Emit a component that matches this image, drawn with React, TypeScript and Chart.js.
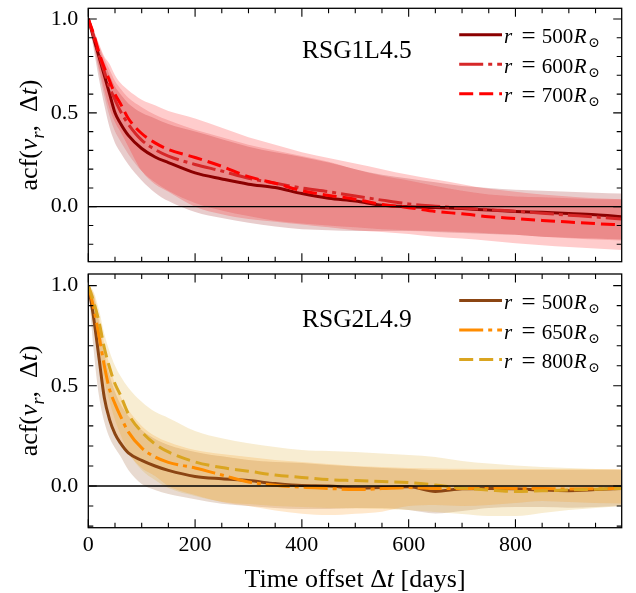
import React, { useEffect, useRef } from "react";
import { Chart, registerables } from "chart.js";

Chart.register(...registerables);

// ---------------- data ----------------
const T = [0, 10, 20, 30, 40, 50, 60, 75, 100, 125, 150, 200, 250, 300, 350, 400, 450, 500, 550, 600, 650, 700, 750, 800, 850, 900, 950, 999];

// Top panel: RSG1L4.5
const TOP_NAME = "RSG1L4.5";
const TOP_RADII = ["500", "600", "700"];
const TOP_MEAN_500 = [1.0, 0.90, 0.80, 0.70, 0.60, 0.50, 0.445, 0.38, 0.31, 0.265, 0.235, 0.18, 0.148, 0.12, 0.102, 0.07, 0.045, 0.03, 0.008, 0.0, -0.004, -0.01, -0.018, -0.025, -0.03, -0.036, -0.043, -0.053];
const TOP_MEAN_600 = [1.0, 0.91, 0.81, 0.72, 0.635, 0.57, 0.51, 0.44, 0.355, 0.305, 0.27, 0.225, 0.19, 0.152, 0.125, 0.10, 0.08, 0.057, 0.035, 0.015, 0.003, -0.007, -0.016, -0.024, -0.035, -0.045, -0.055, -0.065];
const TOP_MEAN_700 = [1.0, 0.92, 0.82, 0.74, 0.67, 0.60, 0.55, 0.47, 0.39, 0.34, 0.305, 0.262, 0.215, 0.16, 0.125, 0.085, 0.06, 0.04, 0.012, -0.005, -0.025, -0.038, -0.053, -0.063, -0.073, -0.082, -0.09, -0.097];
const TOP_HI_500 = [1.0, 0.93, 0.85, 0.77, 0.70, 0.64, 0.60, 0.55, 0.50, 0.47, 0.44, 0.40, 0.36, 0.32, 0.29, 0.265, 0.235, 0.20, 0.17, 0.15, 0.13, 0.11, 0.10, 0.09, 0.085, 0.08, 0.075, 0.07];
const TOP_LO_500 = [1.0, 0.84, 0.68, 0.54, 0.42, 0.34, 0.29, 0.225, 0.14, 0.075, 0.03, -0.028, -0.06, -0.085, -0.105, -0.12, -0.125, -0.13, -0.13, -0.13, -0.135, -0.14, -0.145, -0.15, -0.16, -0.165, -0.17, -0.175];
const TOP_HI_600 = [1.0, 0.94, 0.86, 0.79, 0.73, 0.67, 0.63, 0.58, 0.53, 0.49, 0.46, 0.41, 0.37, 0.33, 0.30, 0.27, 0.24, 0.20, 0.165, 0.14, 0.11, 0.085, 0.065, 0.055, 0.05, 0.045, 0.04, 0.04];
const TOP_LO_600 = [1.0, 0.86, 0.72, 0.59, 0.48, 0.40, 0.35, 0.28, 0.19, 0.13, 0.085, 0.02, -0.02, -0.05, -0.075, -0.09, -0.10, -0.11, -0.12, -0.125, -0.13, -0.135, -0.142, -0.15, -0.16, -0.168, -0.175, -0.18];
const TOP_HI_700 = [1.0, 0.94, 0.87, 0.80, 0.76, 0.70, 0.66, 0.62, 0.57, 0.54, 0.51, 0.47, 0.42, 0.37, 0.33, 0.29, 0.26, 0.23, 0.20, 0.17, 0.145, 0.12, 0.095, 0.08, 0.065, 0.055, 0.045, 0.04];
const TOP_LO_700 = [1.0, 0.87, 0.74, 0.62, 0.52, 0.45, 0.40, 0.32, 0.19, 0.12, 0.08, 0.0, -0.04, -0.065, -0.08, -0.095, -0.11, -0.125, -0.135, -0.145, -0.16, -0.17, -0.182, -0.195, -0.205, -0.215, -0.223, -0.231];

// Bottom panel: RSG2L4.9
const BOT_NAME = "RSG2L4.9";
const BOT_RADII = ["500", "650", "800"];
const BOT_MEAN_500 = [1.0, 0.84, 0.64, 0.44, 0.33, 0.26, 0.215, 0.165, 0.128, 0.1, 0.078, 0.048, 0.036, 0.027, 0.012, 0.002, 0.0, -0.01, -0.007, -0.004, -0.027, -0.014, -0.012, -0.014, -0.02, -0.023, -0.018, -0.012];
const BOT_MEAN_650 = [1.0, 0.89, 0.75, 0.60, 0.48, 0.41, 0.35, 0.27, 0.19, 0.145, 0.118, 0.09, 0.055, 0.02, 0.004, -0.006, -0.012, -0.018, -0.013, -0.008, -0.012, -0.013, -0.01, -0.012, -0.013, -0.015, -0.014, -0.012];
const BOT_MEAN_800 = [1.0, 0.92, 0.82, 0.69, 0.59, 0.51, 0.455, 0.36, 0.27, 0.21, 0.17, 0.12, 0.092, 0.074, 0.055, 0.043, 0.032, 0.027, 0.022, 0.017, 0.005, -0.01, -0.02, -0.027, -0.024, -0.02, -0.016, -0.012];
const BOT_HI_500 = [1.0, 0.95, 0.82, 0.66, 0.55, 0.47, 0.41, 0.35, 0.28, 0.235, 0.205, 0.17, 0.148, 0.13, 0.12, 0.115, 0.105, 0.097, 0.09, 0.085, 0.08, 0.08, 0.08, 0.08, 0.08, 0.08, 0.08, 0.08];
const BOT_LO_500 = [1.0, 0.68, 0.45, 0.32, 0.24, 0.19, 0.15, 0.08, 0.01, -0.02, -0.04, -0.066, -0.088, -0.1, -0.11, -0.115, -0.115, -0.11, -0.11, -0.12, -0.137, -0.125, -0.11, -0.105, -0.105, -0.108, -0.105, -0.10];
const BOT_HI_650 = [1.0, 0.96, 0.85, 0.71, 0.60, 0.51, 0.45, 0.38, 0.30, 0.25, 0.22, 0.18, 0.16, 0.145, 0.13, 0.12, 0.11, 0.10, 0.095, 0.09, 0.088, 0.086, 0.085, 0.085, 0.085, 0.085, 0.085, 0.085];
const BOT_LO_650 = [1.0, 0.8, 0.6, 0.45, 0.34, 0.27, 0.22, 0.16, 0.09, 0.05, 0.0, -0.045, -0.08, -0.1, -0.122, -0.138, -0.145, -0.138, -0.128, -0.1, -0.095, -0.1, -0.095, -0.085, -0.075, -0.08, -0.085, -0.087];
const BOT_HI_800 = [1.0, 0.97, 0.88, 0.76, 0.67, 0.60, 0.55, 0.49, 0.42, 0.37, 0.34, 0.275, 0.238, 0.213, 0.195, 0.18, 0.175, 0.17, 0.162, 0.155, 0.145, 0.125, 0.112, 0.102, 0.095, 0.09, 0.085, 0.083];
const BOT_LO_800 = [1.0, 0.85, 0.68, 0.53, 0.42, 0.33, 0.26, 0.17, 0.08, 0.03, -0.01, -0.05, -0.078, -0.09, -0.1, -0.105, -0.11, -0.112, -0.115, -0.12, -0.13, -0.14, -0.15, -0.15, -0.135, -0.12, -0.11, -0.10];

const X_TICKS = [0, 200, 400, 600, 800];
const Y_TICKS = [0.0, 0.5, 1.0];

// ---------------- styling ----------------
const FONT = '"Liberation Serif", "DejaVu Serif", serif';

type Series = { radius: string; mean: number[]; hi: number[]; lo: number[]; rgb: [number, number, number]; dash: number[] };
type PanelDef = {
  name: string;
  series: Series[];
  yMin: number;
  yMax: number;
  showX: boolean;
  annotDy: number;
};

const DASHES = [[], [24, 5, 4, 5], [14, 6]];

const TOP: PanelDef = {
  name: TOP_NAME,
  yMin: -0.293,
  yMax: 1.057,
  showX: false,
  annotDy: 50,
  series: [
    { radius: TOP_RADII[0], mean: TOP_MEAN_500, hi: TOP_HI_500, lo: TOP_LO_500, rgb: [139, 0, 0], dash: DASHES[0] },
    { radius: TOP_RADII[1], mean: TOP_MEAN_600, hi: TOP_HI_600, lo: TOP_LO_600, rgb: [214, 39, 40], dash: DASHES[1] },
    { radius: TOP_RADII[2], mean: TOP_MEAN_700, hi: TOP_HI_700, lo: TOP_LO_700, rgb: [255, 0, 0], dash: DASHES[2] },
  ],
};

const BOT: PanelDef = {
  name: BOT_NAME,
  yMin: -0.208,
  yMax: 1.058,
  showX: true,
  annotDy: 52.5,
  series: [
    { radius: BOT_RADII[0], mean: BOT_MEAN_500, hi: BOT_HI_500, lo: BOT_LO_500, rgb: [139, 69, 19], dash: DASHES[0] },
    { radius: BOT_RADII[1], mean: BOT_MEAN_650, hi: BOT_HI_650, lo: BOT_LO_650, rgb: [255, 140, 0], dash: DASHES[1] },
    { radius: BOT_RADII[2], mean: BOT_MEAN_800, hi: BOT_HI_800, lo: BOT_LO_800, rgb: [218, 165, 32], dash: DASHES[2] },
  ],
};

const rgba = (c: number[], a: number) => `rgba(${c[0]},${c[1]},${c[2]},${a})`;

type Seg = { t: string; it?: boolean; sub?: boolean };

function drawSegs(ctx: CanvasRenderingContext2D, segs: Seg[], x: number, y: number, size: number, align: "left" | "center") {
  const fontOf = (s: Seg) => `${s.it ? "italic " : ""}${s.sub ? Math.round(size * 0.7) : size}px ${FONT}`;
  const widths = segs.map((s) => {
    ctx.font = fontOf(s);
    return ctx.measureText(s.t).width;
  });
  const total = widths.reduce((a, b) => a + b, 0);
  let cx = align === "center" ? x - total / 2 : x;
  segs.forEach((s, i) => {
    ctx.font = fontOf(s);
    ctx.fillText(s.t, cx, s.sub ? y + size * 0.25 : y);
    cx += widths[i];
  });
}

const panelPlugin = {
  id: "panel",
  afterDatasetsDraw(chart: any) {
    const { ctx, chartArea: a } = chart;
    const y0 = chart.scales.y.getPixelForValue(0);
    ctx.save();
    ctx.strokeStyle = "#000";
    ctx.lineWidth = 1.3;
    ctx.beginPath();
    ctx.moveTo(a.left, y0);
    ctx.lineTo(a.right, y0);
    ctx.stroke();
    ctx.restore();
  },
  afterDraw(chart: any, _args: any, o: any) {
    const p: PanelDef = o.def;
    const { ctx, chartArea: a } = chart;
    const xs = chart.scales.x;
    const ys = chart.scales.y;
    ctx.save();
    ctx.strokeStyle = "#000";
    ctx.setLineDash([]);
    // inward ticks on all four sides
    ctx.lineWidth = 1.1;
    ctx.beginPath();
    for (let k = 0; k * 50 <= xs.max; k++) {
      const v = k * 50;
      const len = v % 200 === 0 ? 8.5 : 5;
      const px = xs.getPixelForValue(v);
      ctx.moveTo(px, a.bottom);
      ctx.lineTo(px, a.bottom - len);
      ctx.moveTo(px, a.top);
      ctx.lineTo(px, a.top + len);
    }
    for (let k = Math.ceil(ys.min * 10); k <= Math.floor(ys.max * 10); k++) {
      const len = k % 5 === 0 ? 8.5 : 5;
      const py = ys.getPixelForValue(k / 10);
      ctx.moveTo(a.left, py);
      ctx.lineTo(a.left + len, py);
      ctx.moveTo(a.right, py);
      ctx.lineTo(a.right - len, py);
    }
    ctx.stroke();
    // frame
    ctx.lineWidth = 1.3;
    ctx.strokeRect(a.left, a.top, a.right - a.left, a.bottom - a.top);

    ctx.fillStyle = "#000";
    ctx.textBaseline = "alphabetic";
    ctx.textAlign = "left";

    // panel name
    ctx.font = `25.5px ${FONT}`;
    ctx.fillText(p.name, a.left + 213.7, a.top + p.annotDy);

    // legend
    p.series.forEach((s, i) => {
      const by = a.top + 35 + i * 29.5;
      const ly = by - 8.5;
      ctx.save();
      ctx.strokeStyle = rgba(s.rgb, 1);
      ctx.lineWidth = 3;
      ctx.lineCap = "butt";
      ctx.setLineDash(s.dash);
      ctx.beginPath();
      ctx.moveTo(a.right - 162.5, ly);
      ctx.lineTo(a.right - 119.7, ly);
      ctx.stroke();
      ctx.restore();
      const x0 = a.right - 117.7;
      ctx.font = `italic 21px ${FONT}`;
      ctx.fillText("r", x0, by);
      ctx.font = `25px ${FONT}`;
      ctx.fillText("=", x0 + 17.5, by + 0.5);
      ctx.font = `21px ${FONT}`;
      ctx.fillText(s.radius, x0 + 37.7, by);
      const w = ctx.measureText(s.radius).width;
      ctx.font = `italic 21px ${FONT}`;
      ctx.fillText("R", x0 + 37.7 + w + 0.5, by);
      const wr = ctx.measureText("R").width;
      ctx.font = `14px "DejaVu Serif", ${FONT}`;
      ctx.fillText("\u2299", x0 + 37.7 + w + 0.5 + wr + 1.5, by + 4);
    });

    // y axis title
    ctx.save();
    ctx.translate(37, (a.top + a.bottom) / 2);
    ctx.rotate(-Math.PI / 2);
    drawSegs(
      ctx,
      [{ t: "acf(" }, { t: "v", it: true }, { t: "r", it: true, sub: true }, { t: ",  " }, { t: "\u0394" }, { t: "t", it: true }, { t: ")" }],
      0,
      0,
      26,
      "center"
    );
    ctx.restore();

    // x axis title
    if (p.showX) {
      drawSegs(
        ctx,
        [{ t: "Time offset \u0394" }, { t: "t", it: true }, { t: " [days]" }],
        (a.left + a.right) / 2,
        a.bottom + 59,
        26,
        "center"
      );
    }
    ctx.restore();
  },
};

function buildConfig(p: PanelDef, xAxisHeight: number, padTop: number, padBottom: number): any {
  const pts = (arr: number[]) => T.map((t, i) => ({ x: t, y: arr[i] }));
  const order = [...p.series].reverse();
  const lines = order.map((s) => ({
    data: pts(s.mean),
    borderColor: rgba(s.rgb, 1),
    borderWidth: 3,
    borderDash: s.dash,
    borderCapStyle: "butt",
    borderJoinStyle: "round",
    pointRadius: 0,
    fill: false,
    cubicInterpolationMode: "monotone",
  }));
  const bands: any[] = [];
  order.forEach((s) => {
    bands.push({
      data: pts(s.hi),
      borderWidth: 0,
      borderColor: "rgba(0,0,0,0)",
      backgroundColor: rgba(s.rgb, 0.2),
      pointRadius: 0,
      fill: "+1",
      cubicInterpolationMode: "monotone",
    });
    bands.push({
      data: pts(s.lo),
      borderWidth: 0,
      borderColor: "rgba(0,0,0,0)",
      pointRadius: 0,
      fill: false,
      cubicInterpolationMode: "monotone",
    });
  });
  return {
    type: "line",
    data: { datasets: [...lines, ...bands] },
    options: {
      animation: false,
      responsive: false,
      devicePixelRatio: 1,
      events: [],
      layout: { autoPadding: false, padding: { left: 0, right: 14.3, top: padTop, bottom: padBottom } },
      plugins: {
        legend: { display: false },
        tooltip: { enabled: false },
        title: { display: false },
        filler: { drawTime: "beforeDatasetsDraw" },
        panel: { def: p },
      },
      scales: {
        x: {
          type: "linear",
          min: 0,
          max: 999,
          grid: { display: false, drawTicks: false },
          border: { display: false },
          afterBuildTicks: (s: any) => {
            s.ticks = X_TICKS.map((v) => ({ value: v }));
          },
          ticks: {
            display: p.showX,
            color: "#000",
            padding: 4,
            maxRotation: 0,
            autoSkip: false,
            font: { family: FONT, size: 22 },
            callback: (v: any) => String(v),
          },
          afterFit: (s: any) => {
            s.height = xAxisHeight;
            s.paddingLeft = 0;
            s.paddingRight = 0;
          },
        },
        y: {
          min: p.yMin,
          max: p.yMax,
          grid: { display: false, drawTicks: false },
          border: { display: false },
          afterBuildTicks: (s: any) => {
            s.ticks = Y_TICKS.map((v) => ({ value: v }));
          },
          ticks: {
            color: "#000",
            padding: 10,
            autoSkip: false,
            font: { family: FONT, size: 22 },
            callback: (v: any) => Number(v).toFixed(1),
          },
          afterFit: (s: any) => {
            s.width = 88.3;
            s.paddingTop = 0;
            s.paddingBottom = 0;
          },
        },
      },
    },
    plugins: [panelPlugin],
  };
}

function Panel({ def, top, height, xAxisHeight, padTop, padBottom }: { def: PanelDef; top: number; height: number; xAxisHeight: number; padTop: number; padBottom: number }) {
  const ref = useRef<HTMLCanvasElement>(null);
  useEffect(() => {
    const chart = new Chart(ref.current as HTMLCanvasElement, buildConfig(def, xAxisHeight, padTop, padBottom));
    return () => chart.destroy();
  }, []);
  return (
    <canvas
      ref={ref}
      width={636}
      height={height}
      style={{ position: "absolute", left: 0, top, width: 636, height, display: "block" }}
    />
  );
}

export default function App() {
  return (
    <div style={{ position: "absolute", left: 0, top: 0, width: 636, height: 593, background: "#fff", overflow: "hidden" }}>
      <Panel def={TOP} top={0} height={268} xAxisHeight={0} padTop={8.3} padBottom={6.3} />
      <Panel def={BOT} top={268} height={325} xAxisHeight={65.3} padTop={6} padBottom={0} />
    </div>
  );
}
